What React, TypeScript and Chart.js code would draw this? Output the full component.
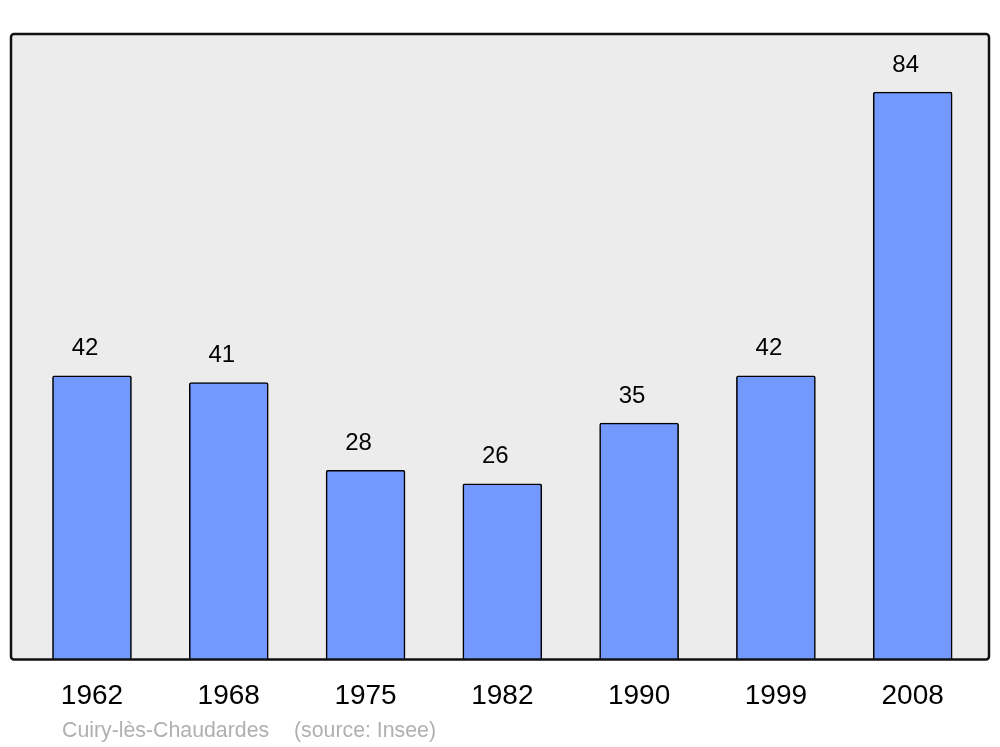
import React, { useEffect, useRef } from "react";
import { Chart, registerables } from "chart.js";

Chart.register(...registerables);

const years = ["1962", "1968", "1975", "1982", "1990", "1999", "2008"];
const population = [42, 41, 28, 26, 35, 42, 84];
const footerPlace = "Cuiry-lès-Chaudardes";
const footerSource = "(source: Insee)";

const FONT = "'Liberation Sans', Arial, sans-serif";

const framePlugin = {
  id: "frame",
  beforeDatasetsDraw(chart: any) {
    const { ctx, chartArea: a } = chart;
    ctx.save();
    ctx.fillStyle = "#ececec";
    ctx.beginPath();
    ctx.roundRect(a.left, a.top, a.right - a.left, a.bottom - a.top, 3);
    ctx.fill();
    ctx.restore();
  },
  afterDatasetsDraw(chart: any) {
    const { ctx, chartArea: a } = chart;
    ctx.save();
    // value labels
    const meta = chart.getDatasetMeta(0);
    ctx.fillStyle = "#000";
    ctx.font = `24px ${FONT}`;
    ctx.textAlign = "center";
    ctx.textBaseline = "middle";
    meta.data.forEach((bar: any, i: number) => {
      ctx.fillText(String(population[i]), bar.x - 7, bar.y - 27);
    });
    // frame
    ctx.strokeStyle = "#111";
    ctx.lineWidth = 2.5;
    ctx.beginPath();
    ctx.roundRect(a.left, a.top, a.right - a.left, a.bottom - a.top, 3);
    ctx.stroke();
    // footer
    ctx.fillStyle = "#b0b0b0";
    ctx.font = `21.3px ${FONT}`;
    ctx.textAlign = "left";
    ctx.fillText(footerPlace, 62, 731);
    ctx.fillText(footerSource, 294, 731);
    ctx.restore();
  },
};

export default function App() {
  const ref = useRef<HTMLCanvasElement>(null);
  useEffect(() => {
    const chart = new Chart(ref.current as HTMLCanvasElement, {
      type: "bar",
      data: {
        datasets: [
          {
            data: population.map((v, i) => ({ x: i, y: v })),
            backgroundColor: "#7399ff",
            borderColor: "#000",
            borderWidth: 1.6,
            borderRadius: 2,
            borderSkipped: "bottom",
            barThickness: 79,
          },
        ],
      },
      options: {
        animation: false,
        responsive: false,
        layout: { padding: { left: 11, right: 11, top: 34, bottom: 14 } },
        plugins: { legend: { display: false }, tooltip: { enabled: false } },
        scales: {
          x: {
            type: "linear",
            offset: false,
            min: -0.592,
            max: 6.558,
            grid: { display: false, drawTicks: false },
            border: { display: false },
            afterBuildTicks: (axis: any) => {
              axis.ticks = years.map((_, i) => ({ value: i }));
            },
            ticks: {
              autoSkip: false,
              maxRotation: 0,
              padding: 20,
              color: "#000",
              font: { family: FONT, size: 28 },
              callback: (v: any) => years[v as number] ?? "",
            },
          },
          y: {
            display: false,
            min: 0,
            max: 92.6,
          },
        },
      },
      plugins: [framePlugin],
    } as any);
    return () => chart.destroy();
  }, []);
  return (
    <div style={{ position: "fixed", left: 0, top: 0, width: 1000, height: 747, background: "#fff" }}>
      <canvas ref={ref} width={1000} height={747} style={{ display: "block" }} />
    </div>
  );
}
